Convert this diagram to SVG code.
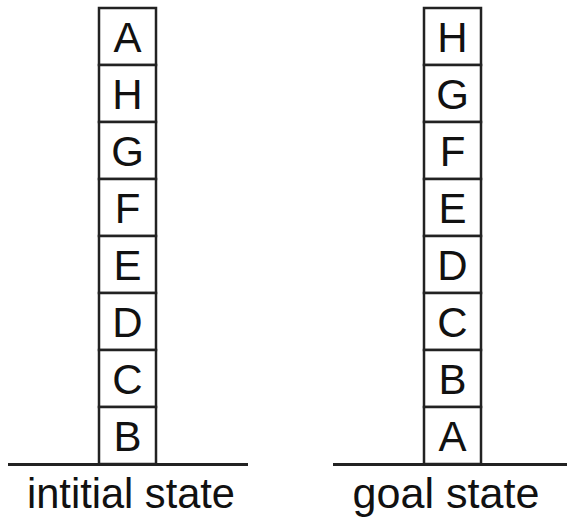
<svg xmlns="http://www.w3.org/2000/svg" width="567" height="519" viewBox="0 0 567 519">
<style>
.blk rect{fill:#fff;stroke:#222;stroke-width:2.5}
.blk text{font-family:"Liberation Sans",Arial,sans-serif;font-size:42px;fill:#111;text-anchor:middle}
.ground{stroke:#222;stroke-width:3}
.lbl{font-family:"Liberation Sans",Arial,sans-serif;font-size:42px;fill:#111;text-anchor:middle}
</style>
<rect width="567" height="519" fill="#fff"/>
<g id="initial">
<g id="iA" class="blk"><rect x="99" y="8" width="57" height="57"/><text x="127.5" y="52">A</text></g>
<g id="iH" class="blk"><rect x="99" y="65" width="57" height="57"/><text x="127.5" y="109">H</text></g>
<g id="iG" class="blk"><rect x="99" y="122" width="57" height="57"/><text x="127.5" y="166">G</text></g>
<g id="iF" class="blk"><rect x="99" y="179" width="57" height="57"/><text x="127.5" y="223">F</text></g>
<g id="iE" class="blk"><rect x="99" y="236" width="57" height="57"/><text x="127.5" y="280">E</text></g>
<g id="iD" class="blk"><rect x="99" y="293" width="57" height="57"/><text x="127.5" y="337">D</text></g>
<g id="iC" class="blk"><rect x="99" y="350" width="57" height="57"/><text x="127.5" y="394">C</text></g>
<g id="iB" class="blk"><rect x="99" y="407" width="57" height="57"/><text x="127.5" y="451">B</text></g>
<line class="ground" x1="8" y1="464.5" x2="248" y2="464.5"/>
<text class="lbl" x="131" y="508" textLength="208" lengthAdjust="spacingAndGlyphs">intitial state</text>
</g>
<g id="goal">
<g id="gH" class="blk"><rect x="424" y="8" width="57" height="57"/><text x="452.5" y="52">H</text></g>
<g id="gG" class="blk"><rect x="424" y="65" width="57" height="57"/><text x="452.5" y="109">G</text></g>
<g id="gF" class="blk"><rect x="424" y="122" width="57" height="57"/><text x="452.5" y="166">F</text></g>
<g id="gE" class="blk"><rect x="424" y="179" width="57" height="57"/><text x="452.5" y="223">E</text></g>
<g id="gD" class="blk"><rect x="424" y="236" width="57" height="57"/><text x="452.5" y="280">D</text></g>
<g id="gC" class="blk"><rect x="424" y="293" width="57" height="57"/><text x="452.5" y="337">C</text></g>
<g id="gB" class="blk"><rect x="424" y="350" width="57" height="57"/><text x="452.5" y="394">B</text></g>
<g id="gA" class="blk"><rect x="424" y="407" width="57" height="57"/><text x="452.5" y="451">A</text></g>
<line class="ground" x1="333" y1="464.5" x2="567" y2="464.5"/>
<text class="lbl" x="446" y="508" textLength="187" lengthAdjust="spacingAndGlyphs">goal state</text>
</g>
</svg>
